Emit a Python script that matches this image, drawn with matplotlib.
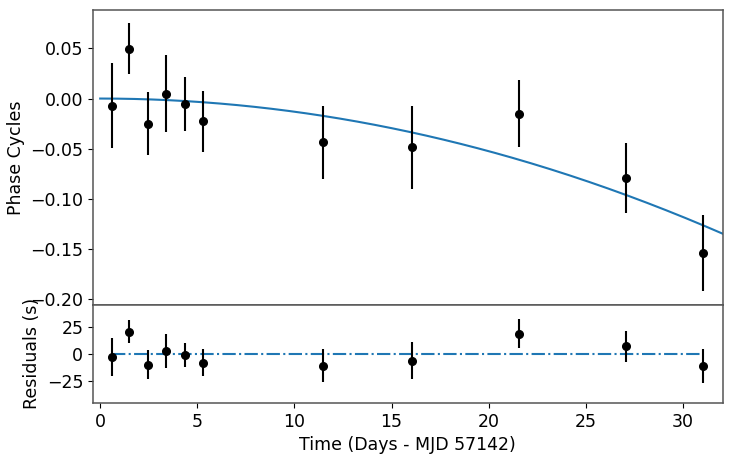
import numpy as np
import matplotlib.pyplot as plt

# Observation times (days since MJD 57142)
days = [0.62, 1.47, 2.48, 3.39, 4.38, 5.31, 11.45, 16.05, 21.55, 27.08, 31.06]

# Measured phase (cycles) and 1-sigma errors
phase = [-0.0070, 0.0498, -0.0250, 0.0050, -0.0053, -0.0227, -0.0437, -0.0487, -0.0150, -0.0792, -0.1543]
phase_err = [0.0423, 0.0252, 0.0314, 0.0385, 0.0269, 0.0304, 0.0364, 0.0416, 0.0331, 0.0350, 0.0381]

# Timing residuals (s) after the quadratic fit
resid = [-3.1, 20.6, -9.9, 2.8, -0.9, -8.0, -10.8, -6.2, 18.8, 7.1, -11.4]
resid_err = [17.5, 10.5, 13.1, 15.9, 11.2, 12.3, 15.1, 17.1, 13.5, 14.4, 15.9]

# Quadratic phase model: phi(t) = curv * t^2 (cycles)
curv = -1.313e-4

plt.rcParams['font.size'] = 12.5

fig = plt.figure(figsize=(7.47, 4.54), dpi=100)
gs = fig.add_gridspec(2, 1, height_ratios=[3, 1], hspace=0,
                      left=0.1245, right=0.9675, top=0.978, bottom=0.1123)
ax1 = fig.add_subplot(gs[0])
ax2 = fig.add_subplot(gs[1], sharex=ax1)

t_model = np.linspace(0, 33, 300)
ax1.plot(t_model, curv * t_model**2, color='C0', lw=1.5)
ax1.errorbar(days, phase, yerr=phase_err, fmt='o', color='black',
             ms=5.5, elinewidth=1.5)
ax1.set_ylabel('Phase Cycles')
ax1.tick_params(labelbottom=False)

ax2.plot([min(days), max(days)], [0, 0], color='C0', ls='-.', lw=1.5)
ax2.errorbar(days, resid, yerr=resid_err, fmt='o', color='black',
             ms=5.5, elinewidth=1.5)
ax2.set_ylim(-45.4, 45.4)
ax2.set_yticks([-25, 0, 25])
ax2.set_ylabel('Residuals (s)')
ax2.set_xlabel('Time (Days - MJD 57142)')
ax2.set_xlim(-0.37, 32.05)
ax2.set_xticks([0, 5, 10, 15, 20, 25, 30])

for ax in (ax1, ax2):
    for s in ax.spines.values():
        s.set_color('#555555')
        s.set_linewidth(1.1)

plt.savefig('out.png', dpi=100)
